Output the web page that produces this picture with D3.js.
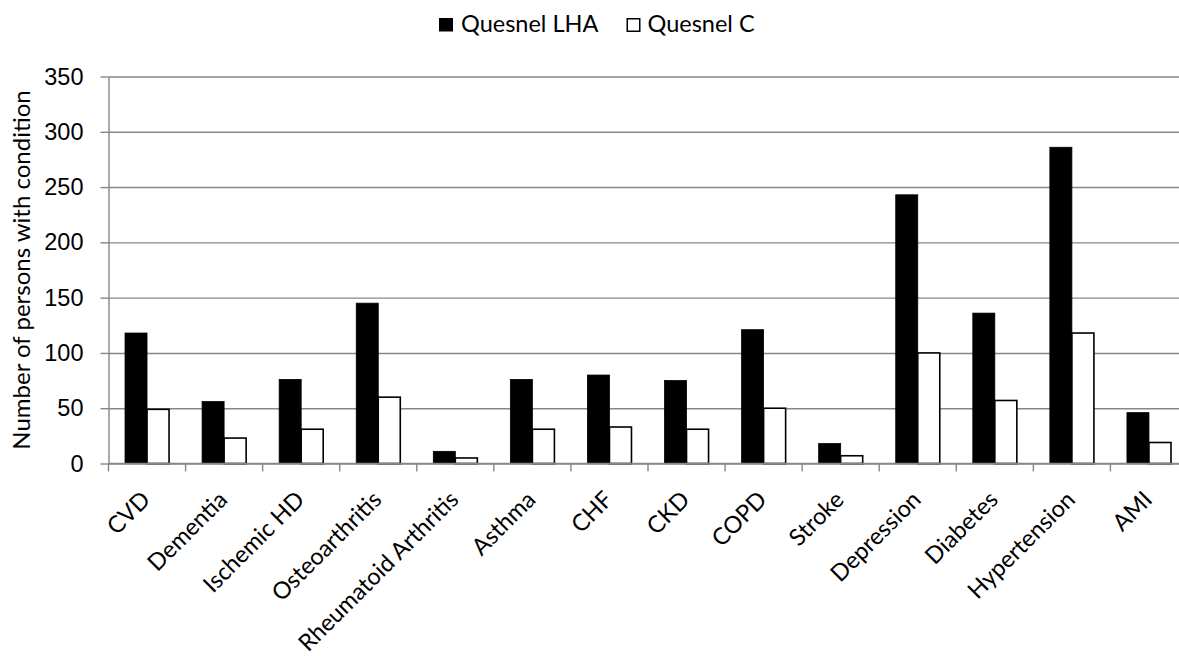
<!DOCTYPE html>
<html>
<head>
<meta charset="utf-8">
<script src="https://cdn.jsdelivr.net/npm/d3@7"></script>
<style>
  body { margin: 0; background: #fff; }
  svg { display: block; font-family: Lato, "Open Sans", sans-serif; }
</style>
</head>
<body>
<div id="chart"></div>
<script>
var categories = ["CVD", "Dementia", "Ischemic HD", "Osteoarthritis", "Rheumatoid Arthritis",
    "Asthma", "CHF", "CKD", "COPD", "Stroke", "Depression", "Diabetes", "Hypertension", "AMI"];
var seriesNames = ["Quesnel LHA", "Quesnel C"];
var lhaValues = [118, 56, 76, 145, 11, 76, 80, 75, 121, 18, 243, 136, 286, 46];
var cValues = [49, 23, 31, 60, 5, 31, 33, 31, 50, 7, 100, 57, 118, 19];
var yTicks = [0, 50, 100, 150, 200, 250, 300, 350];

var data = categories.map(function(c, i) {
    return { category: c, values: [lhaValues[i], cValues[i]] };
});

var totalW = 1179, totalH = 656;
var margin = { top: 76.5, left: 108.5 };
var width = 1079;   // plot runs a little past the right edge, as in the picture
var height = 387;

var svg = d3.select("#chart")
    .append("svg")
    .attr("width", totalW)
    .attr("height", totalH);

var g = svg.append("g")
    .attr("transform", "translate(" + margin.left + "," + margin.top + ")");

var x0 = d3.scaleBand()
    .domain(categories)
    .range([0, width]);

var x1 = d3.scaleBand()
    .domain([0, 1])
    .range([0, x0.bandwidth()])
    .paddingOuter(0.75)
    .paddingInner(0);

var y = d3.scaleLinear()
    .domain([0, 350])
    .range([height, 0]);

// gridlines
g.append("g")
    .attr("class", "grid")
    .call(d3.axisLeft(y).tickValues(yTicks).tickSize(-width).tickFormat(""))
    .call(function(s) { s.select(".domain").remove(); })
    .selectAll("line")
    .attr("stroke", "#878787")
    .attr("stroke-width", 1.4);

// y axis
var yAxis = g.append("g")
    .call(d3.axisLeft(y).tickValues(yTicks).tickSize(8).tickSizeOuter(0).tickPadding(17));
yAxis.select(".domain").attr("stroke", "#878787").attr("stroke-width", 1.4);
yAxis.selectAll(".tick line").attr("stroke", "#878787").attr("stroke-width", 1.4);
yAxis.selectAll(".tick text")
    .style("font-size", "23.5px")
    .attr("fill", "#000");

// bars
var groups = g.selectAll(".cat")
    .data(data)
    .enter().append("g")
    .attr("class", "cat")
    .attr("transform", function(d) { return "translate(" + x0(d.category) + ",0)"; });

groups.selectAll("rect")
    .data(function(d) { return d.values.map(function(v, i) { return { i: i, v: v }; }); })
    .enter().append("rect")
    .attr("x", function(d) { return x1(d.i); })
    .attr("y", function(d) { return y(d.v); })
    .attr("width", x1.bandwidth())
    .attr("height", function(d) { return height - y(d.v); })
    .attr("fill", function(d) { return d.i === 0 ? "#000" : "#fff"; })
    .attr("stroke", "#000")
    .attr("stroke-width", function(d) { return d.i === 0 ? 0.8 : 1.6; });

// x axis with ticks at category boundaries
var xAxis = g.append("g")
    .attr("transform", "translate(0," + height + ")");
xAxis.append("line")
    .attr("x1", 0).attr("x2", width)
    .attr("stroke", "#878787").attr("stroke-width", 1.4);
xAxis.selectAll(".bound")
    .data(categories)
    .enter().append("line")
    .attr("x1", function(d) { return x0(d); })
    .attr("x2", function(d) { return x0(d); })
    .attr("y1", 0).attr("y2", 8)
    .attr("stroke", "#878787").attr("stroke-width", 1.4);

xAxis.selectAll(".xlab")
    .data(categories)
    .enter().append("text")
    .attr("class", "xlab")
    .attr("text-anchor", "end")
    .attr("transform", function(d) {
        return "translate(" + (x0(d) + x0.bandwidth() / 2 - 7) + ",26) rotate(-45)";
    })
    .attr("dy", "0.7em")
    .style("font-size", "23.5px")
    .attr("fill", "#000")
    .text(function(d) { return d; });

// y axis title
svg.append("text")
    .attr("transform", "translate(29.5," + (margin.top + height / 2) + ") rotate(-90)")
    .attr("text-anchor", "middle")
    .style("font-size", "24px")
    .attr("fill", "#000")
    .text("Number of persons with condition");

// legend
var legend = svg.append("g").attr("transform", "translate(439,18)");
var legendX = [0, 187.5];
seriesNames.forEach(function(name, i) {
    var item = legend.append("g").attr("transform", "translate(" + legendX[i] + ",0)");
    item.append("rect")
        .attr("x", i === 0 ? 0 : 0.75).attr("y", i === 0 ? 0 : 0.75)
        .attr("width", i === 0 ? 14 : 12.5).attr("height", i === 0 ? 13.5 : 12.5)
        .attr("fill", i === 0 ? "#000" : "#fff")
        .attr("stroke", "#000")
        .attr("stroke-width", i === 0 ? 0 : 1.5);
    item.append("text")
        .attr("x", i === 0 ? 22 : 21)
        .attr("y", 13.5)
        .style("font-size", "23.5px")
        .attr("fill", "#000")
        .text(name);
});
</script>
</body>
</html>
